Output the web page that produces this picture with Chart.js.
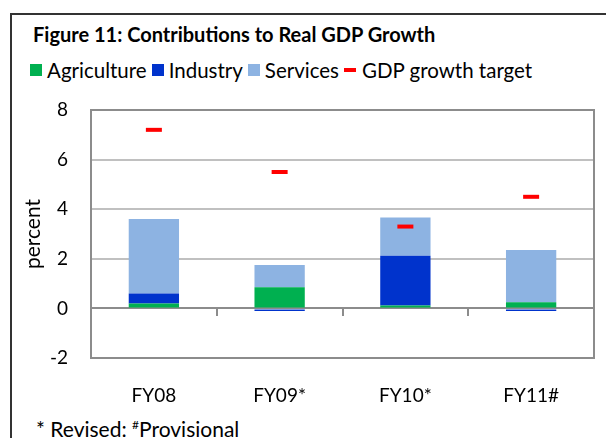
<!DOCTYPE html>
<html>
<head>
<meta charset="utf-8">
<script src="https://cdn.jsdelivr.net/npm/chart.js@4.4.1/dist/chart.umd.min.js"></script>
<style>
  html, body { margin: 0; padding: 0; background: #fff; }
  body { width: 606px; height: 438px; position: relative; overflow: hidden; font-family: Lato, "Open Sans", sans-serif; color: #000; }
  #frame { position: absolute; left: 10px; top: 13px; width: 620px; height: 450px; border: 2px solid #333; box-sizing: border-box; }
  #title { position: absolute; left: 33px; top: 22px; font-weight: bold; font-size: 20px; white-space: nowrap; }
  #legend { position: absolute; left: 30px; top: 58px; font-size: 20.5px; white-space: nowrap; display: flex; align-items: center; }
  #legend .box { display: inline-block; width: 12px; height: 12px; margin-right: 5px; }
  #legend .dash { display: inline-block; width: 12px; height: 4px; margin-right: 6px; background: #ff0000; }
  #legend .item { display: flex; align-items: center; margin-right: 5px; }
  #note { position: absolute; left: 36px; top: 416px; font-size: 21px; white-space: nowrap; }
  #note sup { font-size: 12px; }
  #chart { position: absolute; left: 0; top: 0; }
</style>
</head>
<body>
<div id="frame"></div>
<div id="title">Figure 11: Contributions to Real GDP Growth</div>
<div id="legend"></div>
<div id="note">* Revised: <sup>#</sup>Provisional</div>
<canvas id="chart" width="606" height="438"></canvas>
<script>
// ---------------- ข้อมูล ----------------
const years = ['FY08', 'FY09*', 'FY10*', 'FY11#'];
const agriculture = [0.2, 0.85, 0.12, 0.25];
const industry = [0.4, -0.1, 2.0, -0.1];
const services = [3.0, 0.9, 1.55, 2.1];
const growthTarget = [7.2, 5.5, 3.3, 4.5];
const yTicks = [-2, 0, 2, 4, 6, 8];

const colors = {
  agriculture: '#00b050',
  industry: '#0033cc',
  services: '#8db3e2',
  target: '#ff0000'
};

// ---------------- Legend ----------------
const legendItems = [
  { label: 'Agriculture', color: colors.agriculture, type: 'box' },
  { label: 'Industry', color: colors.industry, type: 'box' },
  { label: 'Services', color: colors.services, type: 'box' },
  { label: 'GDP growth target', color: colors.target, type: 'dash' }
];
const legendEl = document.getElementById('legend');
legendItems.forEach(it => {
  const item = document.createElement('span');
  item.className = 'item';
  const mark = document.createElement('span');
  mark.className = it.type;
  mark.style.background = it.color;
  item.appendChild(mark);
  item.appendChild(document.createTextNode(it.label));
  legendEl.appendChild(item);
});

// plot frame around the chart area
const plotFrame = {
  id: 'plotFrame',
  afterDraw(chart){
    const a = chart.chartArea, ctx = chart.ctx;
    ctx.save();
    ctx.strokeStyle = '#8c8c8c';
    ctx.lineWidth = 2;
    ctx.strokeRect(a.left, a.top, a.right - a.left, a.bottom - a.top);
    ctx.restore();
  }
};

Chart.defaults.font.family = 'Lato, "Open Sans", sans-serif';
Chart.defaults.color = '#000';

// ---------------- กราฟ ----------------
const ctx = document.getElementById('chart').getContext('2d');
new Chart(ctx, {
  type: 'bar',
  data: {
    labels: years,
    datasets: [
      { label: 'Agriculture', data: agriculture, backgroundColor: colors.agriculture, stack: 'gdp', order: 1 },
      { label: 'Industry', data: industry, backgroundColor: colors.industry, stack: 'gdp', order: 1 },
      { label: 'Services', data: services, backgroundColor: colors.services, stack: 'gdp', order: 1 },
      {
        type: 'line', label: 'GDP growth target', data: growthTarget, stack: 'target', order: 0,
        showLine: false, pointStyle: 'line', pointRadius: 8, pointHoverRadius: 8,
        borderColor: colors.target, pointBorderWidth: 4, borderWidth: 4
      }
    ]
  },
  options: {
    responsive: false,
    animation: false,
    layout: { padding: { top: 110, right: 1, left: 0, bottom: 0 } },
    datasets: { bar: { barPercentage: 0.4, categoryPercentage: 1 } },
    plugins: { legend: { display: false }, tooltip: { enabled: false } },
    scales: {
      x: {
        stacked: true,
        grid: { display: false },
        border: { display: false },
        ticks: { font: { size: 19 }, padding: 18 },
        afterFit: s => { s.height = 80; }
      },
      xTicks: {
        type: 'category',
        position: { y: 0 },
        grid: { drawOnChartArea: false, offset: true, tickLength: 7, color: '#8c8c8c', lineWidth: 2 },
        border: { display: true, color: '#8c8c8c', width: 2 },
        ticks: { display: false }
      },
      y: {
        stacked: true,
        min: -2,
        max: 8,
        afterBuildTicks: s => { s.ticks = yTicks.map(v => ({ value: v })); },
        grid: {
          drawTicks: false,
          color: c => c.tick && c.tick.value === 0 ? '#8c8c8c' : '#c0c0c0',
          lineWidth: 2
        },
        border: { color: '#8c8c8c', width: 2 },
        ticks: { font: { size: 19 }, padding: 23 },
        title: { display: true, text: 'percent', font: { size: 21 }, padding: { top: 21, bottom: 0 } },
        afterFit: s => { s.width = 91; }
      }
    }
  },
  plugins: [plotFrame]
});
</script>
</body>
</html>
